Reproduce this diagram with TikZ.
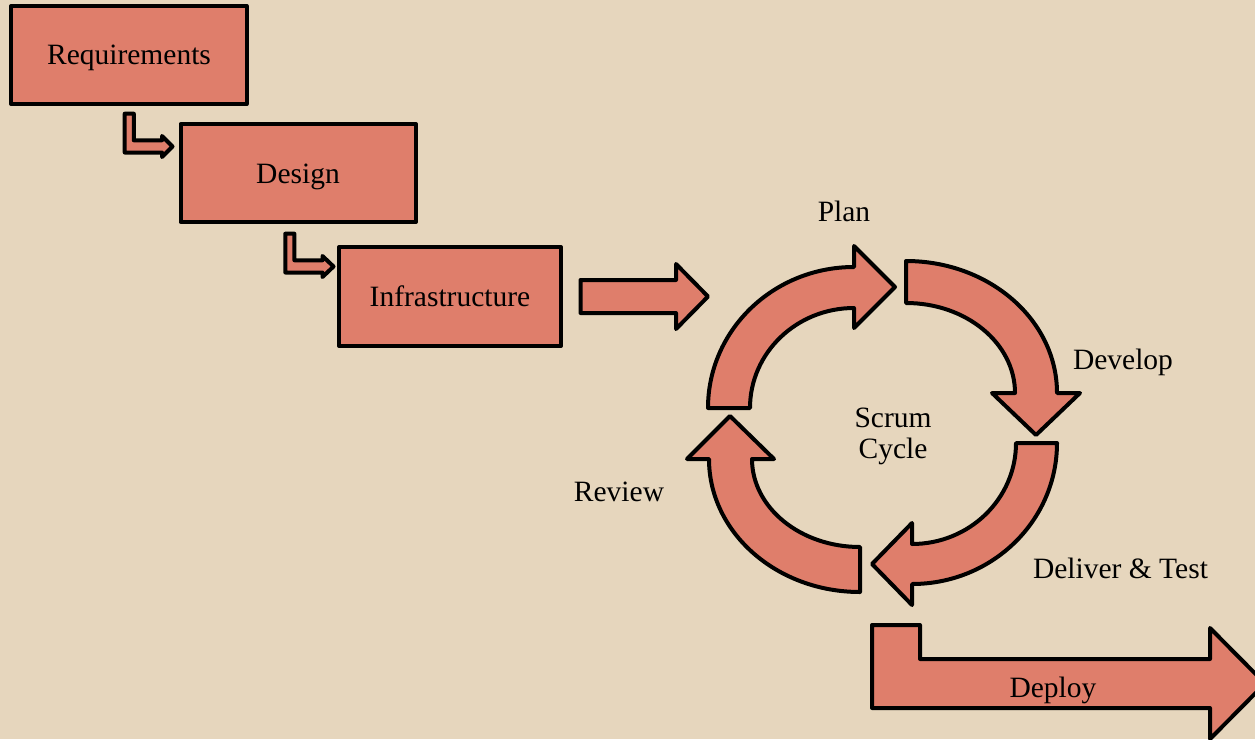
\documentclass[tikz,border=0pt]{standalone}
\usepackage{fontspec}
\setmainfont{Liberation Serif}
\definecolor{bgc}{HTML}{E6D6BD}
\definecolor{boxc}{HTML}{DF7E6B}
\begin{document}
\begin{tikzpicture}[x=1pt,y=-1pt,
  shapestyle/.style={draw=black,fill=boxc,line width=4pt,line join=round},
  stepbox/.style={shapestyle,rectangle,inner sep=0pt},
  lbl/.style={font=\fontsize{29.5}{33}\selectfont,inner sep=0pt,anchor=base,text=black}]
\useasboundingbox (0,0) rectangle (1255,739);
\fill[bgc] (0,0) rectangle (1255,739);
\clip (0,0) rectangle (1255,739);

% waterfall boxes
\node[stepbox,minimum width=235.5pt,minimum height=98pt] (req) at (128.75,55) {};
\node[stepbox,minimum width=235.5pt,minimum height=98pt] (des) at (298.25,173) {};
\node[stepbox,minimum width=222pt,minimum height=99pt] (inf) at (450,296.5) {};
\node[lbl] (reqt) at (129,64.5) {Requirements};
\node[lbl] (dest) at (298,183) {Design};
\node[lbl] (inft) at (450,306) {Infrastructure};

% bent arrows
\draw[shapestyle] (124.7,113.7) -- (133.8,113.7) -- (133.8,140.3) -- (162,140.3) -- (162,136)
  -- (172.5,146.5) -- (162,157) -- (162,152.5) -- (124.7,152.5) -- cycle;
\draw[shapestyle] (285.3,233.7) -- (294.4,233.7) -- (294.4,260.3) -- (322.5,260.3) -- (322.5,256)
  -- (333.5,266.5) -- (322.5,277) -- (322.5,272.5) -- (285.3,272.5) -- cycle;

% straight arrow
\draw[shapestyle] (580.5,280) -- (676,280) -- (676,264) -- (708,296.5) -- (676,329)
  -- (676,313) -- (580.5,313) -- cycle;

% Plan arc
\draw[shapestyle] (708,408) arc[start angle=180,end angle=270,x radius=146,y radius=141]
  -- (854,246) -- (895,287) -- (854,328) -- (854,308)
  arc[start angle=270,end angle=180,x radius=104,y radius=100] -- cycle;
% Develop arc
\draw[shapestyle] (906,261) arc[start angle=-90,end angle=0,x radius=151,y radius=132]
  -- (1080,393) -- (1036,435) -- (992,393) -- (1015,393)
  arc[start angle=0,end angle=-90,x radius=109,y radius=90] -- cycle;
% Deliver arc
\draw[shapestyle] (1057,443) arc[start angle=0,end angle=90,x radius=145,y radius=141]
  -- (912,605) -- (872,564) -- (912,523) -- (912,544)
  arc[start angle=90,end angle=0,x radius=104,y radius=101] -- cycle;
% Review arc
\draw[shapestyle] (860,592) arc[start angle=90,end angle=180,x radius=151,y radius=133]
  -- (687,459) -- (730,416) -- (774,459) -- (752,459)
  arc[start angle=180,end angle=90,x radius=108,y radius=88] -- cycle;

% Deploy arrow
\draw[shapestyle] (872,625) -- (920,625) -- (920,659) -- (1210,659) -- (1210,628)
  -- (1265,683.5) -- (1210,739) -- (1210,708) -- (872,708) -- cycle;

% labels
\node[lbl] (plan) at (844,221) {Plan};
\node[lbl] (dev) at (1123,369) {Develop};
\node[lbl] (scrum) at (893,427) {Scrum};
\node[lbl] (cycle) at (893,458) {Cycle};
\node[lbl] (rev) at (619,501) {Review};
\node[lbl] (dlv) at (1120.5,578) {Deliver \& Test};
\node[lbl] (dep) at (1053,697) {Deploy};
\end{tikzpicture}
\end{document}
